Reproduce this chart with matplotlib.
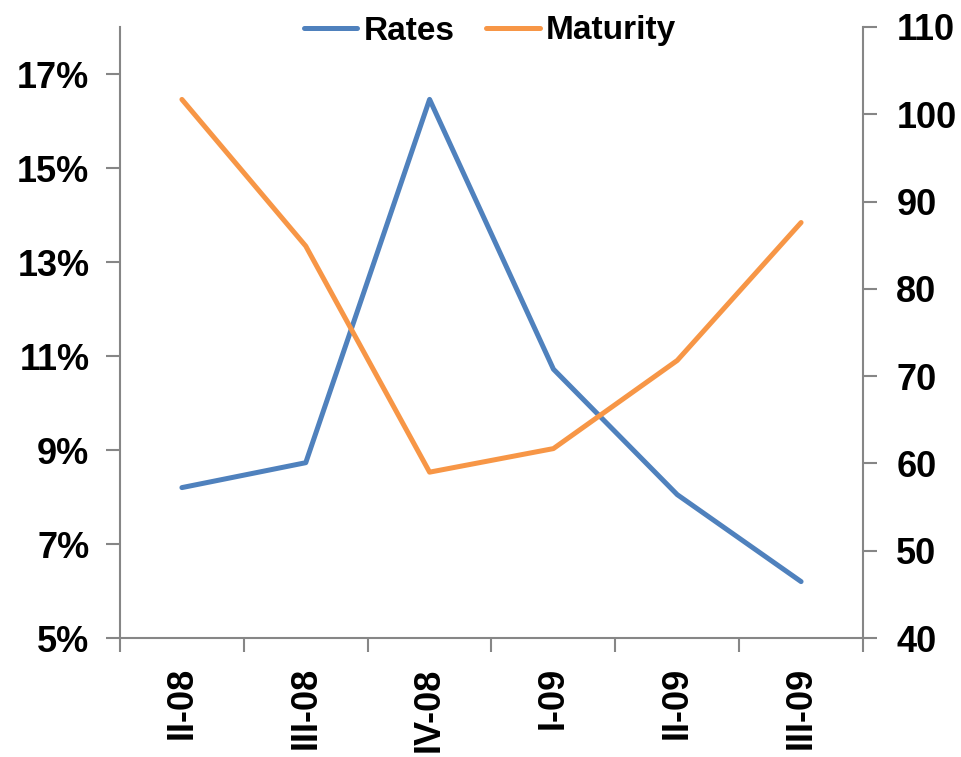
import matplotlib
matplotlib.use("Agg")
import matplotlib.pyplot as plt
from matplotlib.ticker import FuncFormatter

categories = ["II-08", "III-08", "IV-08", "I-09", "II-09", "III-09"]
rates = [8.2, 8.73, 16.46, 10.72, 8.05, 6.2]
maturity = [101.7, 84.9, 59.0, 61.7, 71.8, 87.6]
left_ticks = [5, 7, 9, 11, 13, 15, 17]
right_ticks = [40, 50, 60, 70, 80, 90, 100, 110]

plt.rcParams['font.family'] = ['Liberation Sans', 'DejaVu Sans']
plt.rcParams['font.weight'] = 'bold'

BLUE = "#4F81BD"
ORANGE = "#F79646"
GRAY = "#868686"

fig = plt.figure(figsize=(9.62, 7.57), dpi=100)
ax = fig.add_axes([120/962, 1-638/757, (863-120)/962, (638-27)/757])
ax2 = ax.twinx()

x = list(range(len(categories)))
l1, = ax.plot(x, rates, color=BLUE, lw=3.6, solid_capstyle='round', solid_joinstyle='round', label="Rates")
l2, = ax2.plot(x, maturity, color=ORANGE, lw=3.6, solid_capstyle='round', solid_joinstyle='round', label="Maturity")

ax.set_xlim(-0.5, len(categories) - 0.5)
ax.set_ylim(5, 18)
ax2.set_ylim(40, 110)
ax.set_yticks(left_ticks)
ax.yaxis.set_major_formatter(FuncFormatter(lambda v, p: f"{v:.0f}%"))
ax2.set_yticks(right_ticks)

ax.set_xticks(x)
ax.set_xticklabels(categories, rotation=90)
ax.set_xticks([i - 0.5 for i in range(len(categories) + 1)], minor=True)
ax.tick_params(axis='x', which='major', length=0, pad=21, labelsize=26)
ax.tick_params(axis='x', which='minor', length=10, width=1.5, color=GRAY, direction='out')
ax.tick_params(axis='y', length=10, width=1.5, color=GRAY, labelsize=26, pad=12)
ax2.tick_params(axis='y', length=10, width=1.5, color=GRAY, labelsize=26, pad=14)

for a in (ax, ax2):
    a.spines['top'].set_visible(False)
    for s in ('left', 'right', 'bottom'):
        a.spines[s].set_color(GRAY)
        a.spines[s].set_linewidth(1.5)
ax.spines['right'].set_visible(False)
ax2.spines['left'].set_visible(False)
ax2.spines['bottom'].set_visible(False)

for lab in ax.get_xticklabels() + ax.get_yticklabels() + ax2.get_yticklabels():
    lab.set_fontweight('bold')

fig.legend([l1, l2], ["Rates", "Maturity"], loc='center', bbox_to_anchor=(490/962, 1-31/757),
           ncol=2, frameon=False, handlelength=1.6, columnspacing=0.95,
           handletextpad=0.2, prop={'weight': 'bold', 'size': 24})

fig.savefig("out.png", dpi=100)
